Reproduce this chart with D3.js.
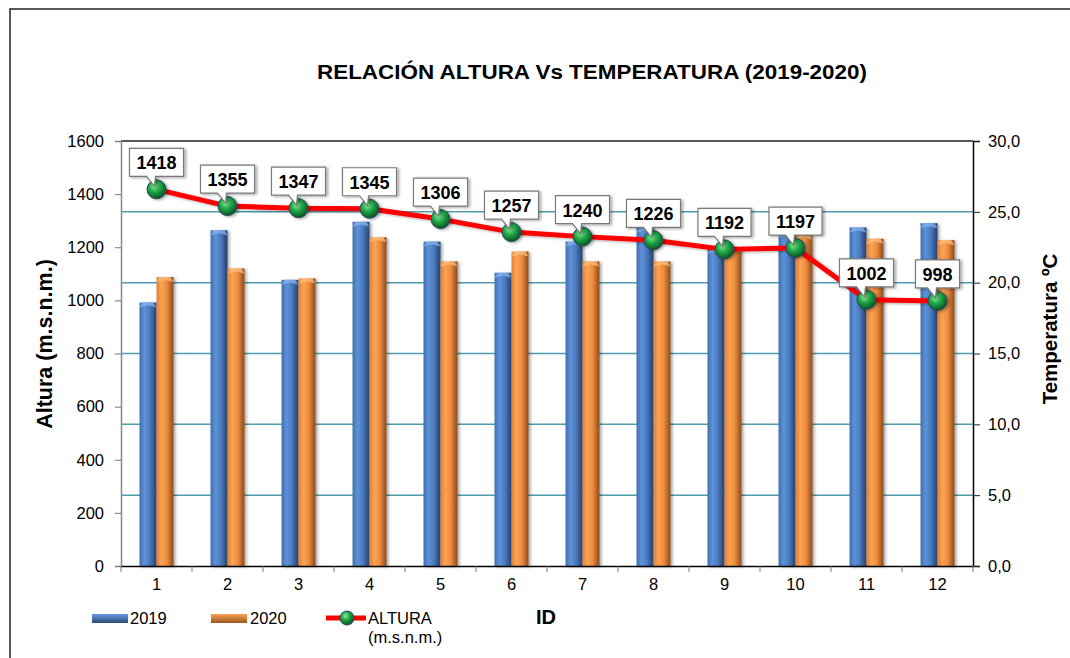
<!DOCTYPE html>
<html><head><meta charset="utf-8">
<script src="https://cdn.jsdelivr.net/npm/d3@7"></script>
<style>body{margin:0;background:#fff}svg{display:block;font-family:"Liberation Sans",Arial,sans-serif}</style>
</head><body><svg id="c" width="1070" height="658"></svg>
<script>
const ids = [1,2,3,4,5,6,7,8,9,10,11,12];
const temp2019 = [18.6,23.7,20.2,24.3,22.9,20.7,22.9,23.9,22.4,23.5,23.9,24.2];
const temp2020 = [20.4,21.0,20.3,23.2,21.5,22.2,21.5,21.5,22.5,23.4,23.1,23.0];
const altura = [1418,1355,1347,1345,1306,1257,1240,1226,1192,1197,1002,998];
const leftTicks = [0,200,400,600,800,1000,1200,1400,1600];
const rightTicks = [0,5,10,15,20,25,30];
const rightTickLabels = ["0,0","5,0","10,0","15,0","20,0","25,0","30,0"];
const seriesNames = ["2019","2020"];

const svg = d3.select("#c");
const L=121,R=973,T=141,B=566;
const x = d3.scaleBand().domain(ids).range([L,R]).paddingInner(0).paddingOuter(0);
const xs = d3.scaleBand().domain(seriesNames).range([0,x.bandwidth()]).paddingInner(0).paddingOuter(1.09);
const yL = d3.scaleLinear().domain([0,1600]).range([B,T]);
const yR = d3.scaleLinear().domain([0,30]).range([B,T]);

const defs = svg.append("defs");
function hgrad(id, stops){const g=defs.append("linearGradient").attr("id",id).attr("x1","0").attr("x2","1").attr("y1","0").attr("y2","0");stops.forEach(s=>g.append("stop").attr("offset",s[0]).attr("stop-color",s[1]));}
function vgrad(id, stops){const g=defs.append("linearGradient").attr("id",id).attr("x1","0").attr("x2","0").attr("y1","0").attr("y2","1");stops.forEach(s=>g.append("stop").attr("offset",s[0]).attr("stop-color",s[1]));}
hgrad("gBlue",[["0","#4070b0"],["0.3","#5e92d8"],["0.6","#4a7cc2"],["1","#263f66"]]);
hgrad("gOrange",[["0","#e0803a"],["0.3","#fba352"],["0.6","#ee8c3e"],["1","#8a4c1c"]]);
vgrad("lBlue",[["0","#6a9ce0"],["1","#2c4a76"]]);
vgrad("lOrange",[["0","#fba352"],["1","#9a5620"]]);
const rg = defs.append("radialGradient").attr("id","gBall").attr("cx","0.4").attr("cy","0.35").attr("r","0.65");
rg.append("stop").attr("offset","0").attr("stop-color","#8cf09a");
rg.append("stop").attr("offset","0.45").attr("stop-color","#1fa848");
rg.append("stop").attr("offset","1").attr("stop-color","#0a5424");
const sh = defs.append("filter").attr("id","shadow").attr("x","-30%").attr("y","-10%").attr("width","160%").attr("height","130%");
sh.append("feDropShadow").attr("dx",2).attr("dy",1).attr("stdDeviation",1.5).attr("flood-color","#000").attr("flood-opacity",0.35);

// frame
svg.append("rect").attr("x",10).attr("y",9).attr("width",1100).attr("height",700).attr("fill","none").attr("stroke","#222").attr("stroke-width",1.5);

// title
svg.append("text").attr("x",592).attr("y",79).attr("text-anchor","middle").attr("font-size",20).attr("font-weight","bold")
  .attr("textLength",550).attr("lengthAdjust","spacingAndGlyphs").text("RELACIÓN ALTURA Vs TEMPERATURA (2019-2020)");

// gridlines
svg.append("g").selectAll("line").data(rightTicks.filter(t=>t>0&&t<30)).join("line")
  .attr("x1",L).attr("x2",R).attr("y1",d=>yR(d)).attr("y2",d=>yR(d)).attr("stroke","#4f9cae").attr("stroke-width",1.5);
svg.append("line").attr("x1",L).attr("x2",R).attr("y1",T).attr("y2",T).attr("stroke","#222").attr("stroke-width",1.5);

// bars
const series = [{name:"2019",vals:temp2019,fill:"url(#gBlue)",cap:"#8ab4ee"},{name:"2020",vals:temp2020,fill:"url(#gOrange)",cap:"#ffc080"}];
const bw = xs.bandwidth();
series.forEach(s=>{
  const g = svg.append("g").attr("filter","url(#shadow)");
  const d = ids.map((id,i)=>({id,v:s.vals[i]}));
  g.selectAll("rect").data(d).join("rect")
    .attr("x",d=>x(d.id)+xs(s.name)).attr("width",bw)
    .attr("y",d=>yR(d.v)).attr("height",d=>B-yR(d.v)).attr("fill",s.fill);
  g.selectAll("path").data(d).join("path")
    .attr("d",d=>{const x0=x(d.id)+xs(s.name),y0=yR(d.v);return `M${x0},${y0+5}L${x0+3},${y0}L${x0+bw-3},${y0}L${x0+bw},${y0+5}L${x0+bw/2},${y0+3}Z`;})
    .attr("fill",s.cap).attr("opacity",0.7);
});

// axes
const axL = svg.append("g").attr("transform",`translate(${L},0)`).call(d3.axisLeft(yL).tickValues(leftTicks).tickFormat(d3.format("d")).tickSize(6).tickPadding(11));
axL.select(".domain").attr("stroke","#888").attr("stroke-width",1.5);
axL.selectAll(".tick line").attr("stroke","#777");
axL.selectAll("text").attr("font-size",16.5).attr("fill","#000").attr("font-family","Liberation Sans, Arial");
const axR = svg.append("g").attr("transform",`translate(${R},0)`).call(d3.axisRight(yR).tickValues(rightTicks).tickFormat((d,i)=>rightTickLabels[i]).tickSize(7).tickPadding(8));
axR.select(".domain").attr("stroke","#000").attr("stroke-width",1.5);
axR.selectAll(".tick line").attr("stroke","#222");
axR.selectAll("text").attr("font-size",16.5).attr("fill","#000").attr("font-family","Liberation Sans, Arial");
const axB = svg.append("g").attr("transform",`translate(0,${B})`).call(d3.axisBottom(x).tickSize(0).tickPadding(12));
axB.select(".domain").attr("stroke","#000").attr("stroke-width",1.5);
axB.selectAll("text").attr("font-size",16.5).attr("fill","#000").attr("font-family","Liberation Sans, Arial");
svg.append("g").selectAll("line").data(ids.map(id=>x(id)).concat([R])).join("line")
  .attr("x1",d=>d).attr("x2",d=>d).attr("y1",B).attr("y2",B+6).attr("stroke","#777");

// axis titles
svg.append("text").attr("transform","translate(52,344) rotate(-90)").attr("text-anchor","middle").attr("font-size",21.5).attr("font-weight","bold").text("Altura (m.s.n.m.)");
svg.append("text").attr("transform","translate(1057,329) rotate(-90)").attr("text-anchor","middle").attr("font-size",20.5).attr("font-weight","bold").text("Temperatura ºC");
svg.append("text").attr("x",546).attr("y",624).attr("text-anchor","middle").attr("font-size",20).attr("font-weight","bold").text("ID");

// line
const pts = ids.map((id,i)=>({id,v:altura[i],cx:x(id)+x.bandwidth()/2,cy:yL(altura[i])}));
svg.append("path").datum(pts).attr("d",d3.line().x(d=>d.cx).y(d=>d.cy)).attr("fill","none").attr("stroke","#ff0000").attr("stroke-width",5).attr("stroke-linejoin","round").attr("filter","url(#shadow)");
svg.append("g").attr("filter","url(#shadow)").selectAll("circle").data(pts).join("circle")
  .attr("cx",d=>d.cx).attr("cy",d=>d.cy).attr("r",9.5).attr("fill","url(#gBall)").attr("stroke","#2a4a60").attr("stroke-width",1);

// labels
const lg = svg.append("g");
pts.forEach(p=>{
  const t = lg.append("text").attr("font-size",18).attr("font-weight","bold").attr("text-anchor","middle").attr("x",p.cx).attr("y",p.cy-20).text(p.v);
  const w = t.node().getComputedTextLength()+14, h=28;
  const bot = p.cy-13, top=bot-h, l=p.cx-w/2, r=p.cx+w/2;
  lg.insert("path","text").attr("d",`M${l},${top}L${r},${top}L${r},${bot}L${p.cx-1},${bot}L${p.cx-2},${p.cy-3}L${p.cx-10},${bot}L${l},${bot}Z`)
    .attr("fill","#fff").attr("stroke","#7a7a7a").attr("stroke-width",1.2).attr("filter","url(#shadow)");
});

// legend
svg.append("rect").attr("x",92).attr("y",614).attr("width",36).attr("height",9).attr("fill","url(#lBlue)");
svg.append("text").attr("x",130).attr("y",624).attr("font-size",16.5).text(seriesNames[0]);
svg.append("rect").attr("x",211).attr("y",614).attr("width",36).attr("height",9).attr("fill","url(#lOrange)");
svg.append("text").attr("x",250).attr("y",624).attr("font-size",16.5).text(seriesNames[1]);
svg.append("line").attr("x1",326).attr("x2",366).attr("y1",618).attr("y2",618).attr("stroke","#ff0000").attr("stroke-width",5);
svg.append("circle").attr("cx",347).attr("cy",618).attr("r",7).attr("fill","url(#gBall)").attr("stroke","#2a4a60");
svg.append("text").attr("x",368).attr("y",624).attr("font-size",16.5).text("ALTURA");
svg.append("text").attr("x",368).attr("y",643).attr("font-size",16.5).text("(m.s.n.m.)");
</script></body></html>
